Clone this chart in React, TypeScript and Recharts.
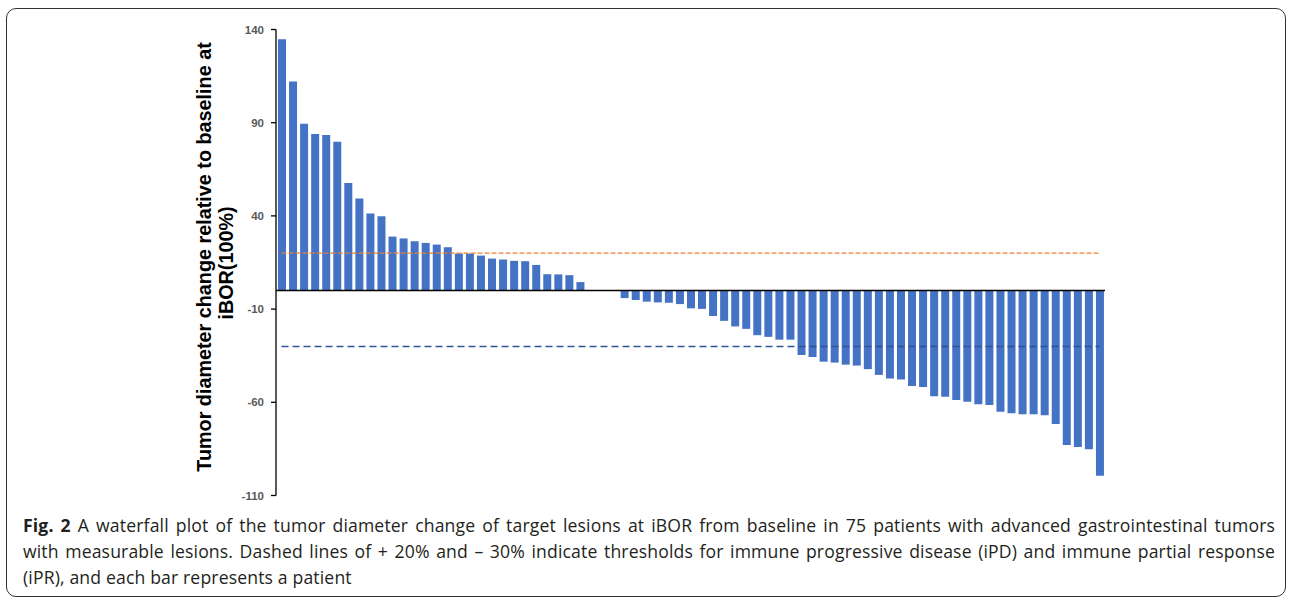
import { BarChart, Bar, XAxis, YAxis, ReferenceLine } from 'recharts';

// tumor diameter change at iBOR, one value per patient (sorted)
const changes = [
  134.8, 112.1, 89.5, 83.9, 83.4, 79.8, 57.7, 49.3, 41.3, 39.8,
  28.9, 27.9, 26.4, 25.5, 24.6, 23.2, 19.8, 19.8, 18.7, 17.1,
  16.6, 15.9, 15.7, 13.7, 8.7, 8.6, 8.2, 4.5, 0, 0,
  0, -4.1, -5.1, -6.0, -6.4, -6.6, -7.3, -9.6, -9.9, -13.7,
  -16.3, -19.3, -20.6, -24.0, -24.9, -26.4, -26.4, -34.6, -35.7, -38.2,
  -38.7, -39.8, -40.3, -42.2, -45.3, -47.2, -47.8, -51.3, -51.8, -56.8,
  -57.0, -58.8, -59.7, -61.1, -61.4, -65.1, -65.9, -66.4, -66.4, -66.9,
  -71.7, -82.9, -84.0, -85.2, -99.4,
];
const patients = changes.map((_, i) => String(i + 1));
const yTicks = [140, 90, 40, -10, -60, -110];
const iPD = 20;
const iPR = -30;

const data = patients.map((p, i) => ({ patient: p, change: changes[i] }));

const captionLines = [
  'A waterfall plot of the tumor diameter change of target lesions at iBOR from baseline in 75 patients with advanced gastrointestinal tumors',
  'with measurable lesions. Dashed lines of + 20% and \u2013 30% indicate thresholds for immune progressive disease (iPD) and immune partial response',
  '(iPR), and each bar represents a patient',
];

const YLabel = () => (
  <text
    transform="rotate(-90)"
    textAnchor="middle"
    fontFamily="'Liberation Sans', Arial, sans-serif"
    fontWeight="bold"
    fontSize={19.8}
    fill="#000"
  >
    <tspan x={-257} y={211}>Tumor diameter change relative to baseline at</tspan>
    <tspan x={-263} y={233}>iBOR(100%)</tspan>
  </text>
);

export default function App() {
  return (
    <div style={{ position: 'absolute', left: 0, top: 0, width: 1290, height: 599, background: '#fff' }}>
      <div
        style={{
          position: 'absolute', left: 6, top: 8, width: 1280, height: 589,
          border: '1.5px solid #333', borderRadius: 10, boxSizing: 'border-box',
        }}
      />
      <div style={{ position: 'absolute', left: 0, top: 0 }}>
        <BarChart
          width={1290}
          height={510}
          data={data}
          margin={{ top: 29.5, right: 185, bottom: 14.5, left: 216 }}
          barSize={8}
        >
          <XAxis dataKey="patient" hide />
          <YAxis
            width={60}
            domain={[-110, 140]}
            ticks={yTicks}
            interval={0}
            stroke="#000"
            strokeWidth={1.3}
            tickSize={5}
            tickMargin={7}
            tick={{ fontSize: 11.5, fontWeight: 'bold', fill: '#595959', fontFamily: "'Liberation Sans', Arial, sans-serif" }}
            label={{ content: () => <YLabel /> }}
          />
          <Bar dataKey="change" fill="#4472C4" isAnimationActive={false} />
          <ReferenceLine y={0} stroke="#000" strokeWidth={1.5} />
          <ReferenceLine
            segment={[{ x: '1', y: iPD }, { x: '75', y: iPD }]}
            stroke="#ED7D31"
            strokeWidth={1.3}
            strokeDasharray="5 2"
          />
          <ReferenceLine
            segment={[{ x: '1', y: iPR }, { x: '75', y: iPR }]}
            stroke="#2F5597"
            strokeWidth={1.5}
            strokeDasharray="7 4"
          />
        </BarChart>
      </div>
      <div
        style={{
          position: 'absolute', left: 23, top: 512, width: 1252, fontFamily: "'Open Sans', sans-serif",
          fontSize: 17.6, letterSpacing: 0.15, lineHeight: '26px', color: '#231f20', whiteSpace: 'nowrap',
        }}
      >
        {captionLines.map((line, i) => (
          <div
            key={i}
            style={i < 2 ? { textAlign: 'justify', textAlignLast: 'justify' } : undefined}
          >
            {i === 0 && <b>Fig. 2 </b>}
            {line}
          </div>
        ))}
      </div>
    </div>
  );
}
